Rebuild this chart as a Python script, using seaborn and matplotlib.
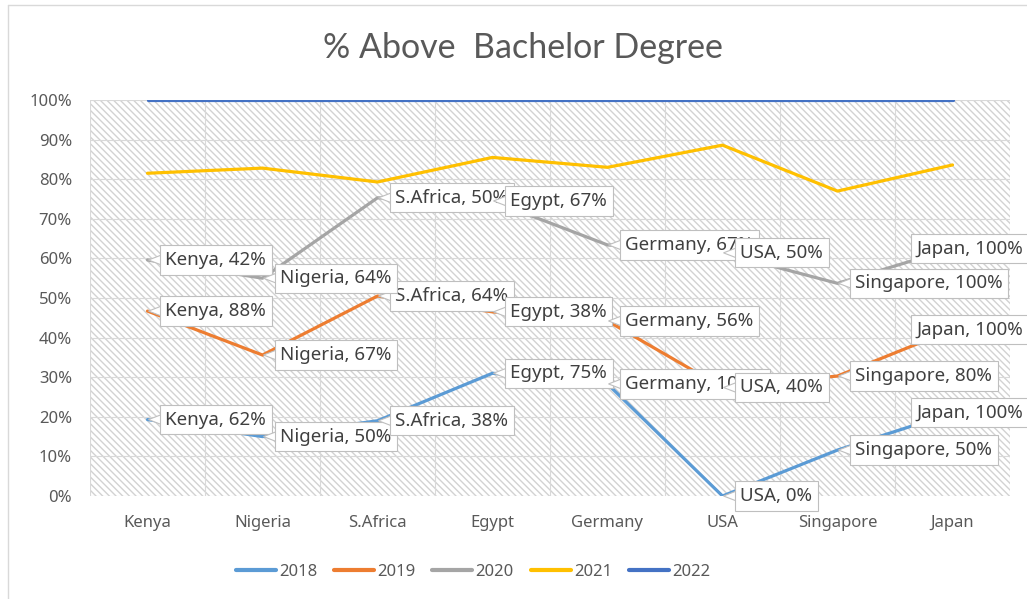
import numpy as np
import pandas as pd
import matplotlib
matplotlib.use("Agg")
import matplotlib.pyplot as plt
import matplotlib.transforms as mtransforms
from matplotlib.patches import Rectangle, Polygon
from matplotlib.lines import Line2D
import seaborn as sns

# ---------------- data ----------------
countries = ["Kenya", "Nigeria", "S.Africa", "Egypt", "Germany", "USA", "Singapore", "Japan"]
years = ["2018", "2019", "2020", "2021", "2022"]
v2018 = [19.3, 15.0, 19.0, 31.0, 28.3, 0.0, 11.6, 21.0]
v2019 = [46.7, 35.6, 50.5, 46.5, 44.2, 27.4, 30.3, 42.0]
v2020 = [59.6, 55.0, 75.3, 74.5, 63.4, 61.4, 53.7, 62.5]
v2021 = [81.5, 82.8, 79.3, 85.5, 83.0, 88.6, 77.0, 83.6]
v2022 = [100, 100, 100, 100, 100, 100, 100, 100]
lbl2018 = ["62%", "50%", "38%", "75%", "100%", "0%", "50%", "100%"]
lbl2019 = ["88%", "67%", "64%", "38%", "56%", "40%", "80%", "100%"]
lbl2020 = ["42%", "64%", "50%", "67%", "67%", "50%", "100%", "100%"]
yticks = [0, 10, 20, 30, 40, 50, 60, 70, 80, 90, 100]
title = "% Above  Bachelor Degree"

colors = ["#5B9BD5", "#ED7D31", "#A5A5A5", "#FFC000", "#4472C4"]
series = [v2018, v2019, v2020, v2021, v2022]
labels = [lbl2018, lbl2019, lbl2020, None, None]

df = pd.DataFrame({
    "country": countries * len(years),
    "value": sum(series, []),
    "year": sum([[y] * len(countries) for y in years], []),
})

# ---------------- style ----------------
sns.set_style("white")
plt.rcParams["font.family"] = ["Noto Sans", "DejaVu Sans"]
plt.rcParams["hatch.linewidth"] = 1.0
txt_col = "#595959"
grid_col = "#d9d9d9"

fig = plt.figure(figsize=(10.27, 5.99), dpi=100)
ax = fig.add_axes([90 / 1027, 103 / 599, 920 / 1027, 396 / 599])
ax.patch.set_facecolor("white")

# hatched plot area
ax.add_patch(Rectangle((0, 0), 1, 1, transform=ax.transAxes, facecolor="white",
                       edgecolor="#d2d2d2", hatch="\\" * 5, linewidth=0, zorder=0.1))

sns.lineplot(data=df, x="country", y="value", hue="year", palette=colors,
             sort=False, linewidth=2.3, ax=ax, zorder=3)

ax.set_xlim(-0.5, len(countries) - 0.5)
ax.set_ylim(0, 100)
ax.set_yticks(yticks)
ax.set_yticklabels([f"{t}%" for t in yticks])
ax.set_xticks(range(len(countries)))
ax.set_xticklabels(countries)
ax.set_xticks(np.arange(-0.5, len(countries), 0.5), minor=True)
ax.set_xlabel("")
ax.set_ylabel("")
ax.tick_params(axis="both", which="both", length=0, colors=txt_col, labelsize=12)
ax.tick_params(axis="y", pad=13)
ax.tick_params(axis="x", pad=14)
ax.grid(False)
ax.grid(True, axis="y", which="major", color=grid_col, linewidth=0.8, zorder=0.5)
ax.grid(True, axis="x", which="minor", color=grid_col, linewidth=0.8, zorder=0.5)
ax.set_axisbelow(True)
for s in ax.spines.values():
    s.set_visible(False)

# data labels (callouts)
fs_lbl = 13.5
pad_px = 0.3 * fs_lbl * 100 / 72
z = 10.0
box_off = 12   # px from point to box left edge
last = len(countries) - 1
for si, (vals, lbls) in enumerate(zip(series, labels)):
    if lbls is None:
        continue
    for i, (v, l) in enumerate(zip(vals, lbls)):
        z += 0.1
        off = box_off
        if i == last:
            off = -42   # kept inside the chart, covering its point
        else:
            trans = mtransforms.Affine2D() + mtransforms.ScaledTranslation(i, v, ax.transData)
            ax.add_patch(Polygon([(1, 0), (off + 2, -5), (off + 2, 5)], closed=True,
                                 transform=trans, facecolor="white", edgecolor="#bfbfbf",
                                 linewidth=0.8, zorder=z - 0.05, clip_on=False))
        ax.annotate(f"{countries[i]}, {l}", xy=(i, v), xytext=(off + pad_px, 0),
                    textcoords="offset pixels", ha="left", va="center",
                    fontsize=fs_lbl, color="#404040", zorder=z, annotation_clip=False,
                    bbox=dict(boxstyle="square,pad=0.3", fc="white", ec="#bfbfbf", lw=0.8))

# legend
handles, labs = ax.get_legend_handles_labels()
ax.get_legend().remove()
for h in handles:
    h.set_linewidth(3)
fig.legend(handles, labs, loc="center", bbox_to_anchor=(473 / 1027, 27 / 599), ncol=5,
           frameon=False, fontsize=12, handlelength=2.4, handletextpad=0.2,
           columnspacing=1.0, labelcolor=txt_col)

# title
fig.text(523 / 1027, 1 - 48 / 599, title, ha="center", va="center", fontsize=24.5,
         color=txt_col, family=["Lato", "DejaVu Sans"])

# chart border (left and top visible)
fig.add_artist(Line2D([8 / 1027, 8 / 1027], [0, 1 - 5 / 599], transform=fig.transFigure,
                      color=grid_col, linewidth=1))
fig.add_artist(Line2D([8 / 1027, 1], [1 - 5 / 599, 1 - 5 / 599], transform=fig.transFigure,
                      color=grid_col, linewidth=1))

fig.savefig("out.png", dpi=100)
